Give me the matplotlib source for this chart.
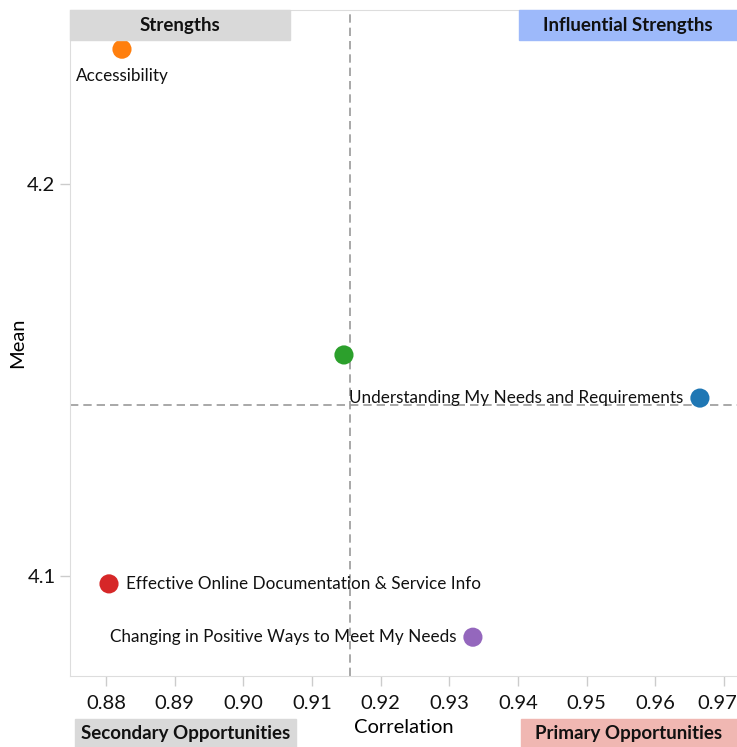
import matplotlib.pyplot as plt
import numpy as np
from matplotlib.patches import Rectangle
from matplotlib.transforms import ScaledTranslation

plt.rcParams['font.family'] = ['Lato', 'DejaVu Sans']

# data
names = ['Understanding My Needs and Requirements', 'Accessibility', '',
         'Effective Online Documentation & Service Info',
         'Changing in Positive Ways to Meet My Needs']
corr = [0.96650, 0.88233, 0.91466, 0.88044, 0.93344]
mean = [4.1454, 4.2344, 4.1564, 4.0980, 4.0844]
colors = ['#1f77b4', '#ff7f0e', '#2ca02c', '#d62728', '#9467bd']
xticks = [0.88, 0.89, 0.90, 0.91, 0.92, 0.93, 0.94, 0.95, 0.96, 0.97]
yticks = [4.1, 4.2]

W, H = 737, 747
fig = plt.figure(figsize=(W/100, H/100), dpi=100)
ax = fig.add_axes([70/W, (H-676)/H, 667/W, 666/H])

ax.axvline(np.mean(corr), color='#999999', ls=(0, (5, 3)), lw=1.2, zorder=1)
ax.axhline(np.mean(mean), color='#999999', ls=(0, (5, 3)), lw=1.2, zorder=1)
ax.scatter(corr, mean, s=190, c=colors, zorder=3, linewidths=0)

# point labels: (offset in points, ha, va)
offs = [((-33, -19), 'left', 'center') if n == 'Accessibility' else
        ((12, 0), 'left', 'center') if n.startswith('Effective') else
        ((-12, 0), 'right', 'center') for n in names]
for n, x, y, (o, ha, va) in zip(names, corr, mean, offs):
    if n:
        ax.annotate(n, (x, y), xytext=o, textcoords='offset points', ha=ha, va=va,
                    fontsize=12.3, color='#111111', zorder=4)

ax.set_xlim(0.87476, 0.9719)
ax.set_ylim(4.0745, 4.2444)
ax.set_xticks(xticks)
ax.set_xticklabels(['%.2f' % v for v in xticks])
ax.set_yticks(yticks)
ax.tick_params(labelsize=14.5, color='#cccccc', length=7, width=1, labelcolor='#111111')
ax.tick_params(axis='x', pad=7)
# last tick label pulled in so it fits the figure
last = ax.get_xticklabels()[-1]
last.set_transform(last.get_transform() + ScaledTranslation(-7/100, 0, fig.dpi_scale_trans))
for s in ['left', 'bottom', 'top']:
    ax.spines[s].set_color('#dddddd')
ax.spines['right'].set_visible(False)
ax.set_xlabel('Correlation', fontsize=14.5, labelpad=5)
ax.set_ylabel('Mean', fontsize=14.5, labelpad=1)

# quadrant boxes (pixel boxes -> figure fraction)
quads = [('Strengths', 70, 290, 10, 40, '#d9d9d9'),
         ('Influential Strengths', 519, 737, 10, 40, '#9db9fa'),
         ('Secondary Opportunities', 75, 296, 719, 747, '#d9d9d9'),
         ('Primary Opportunities', 521, 737, 719, 747, '#f0b7b2')]
for t, x0, x1, y0, y1, c in quads:
    fig.patches.append(Rectangle((x0/W, 1-y1/H), (x1-x0)/W, (y1-y0)/H,
                                 transform=fig.transFigure, color=c, zorder=5))
    fig.text((x0+x1)/2/W, 1-(y0+y1)/2/H, t, ha='center', va='center',
             fontsize=13.5, fontweight='bold', color='#111111', zorder=6)

fig.savefig('out.png', dpi=100)
